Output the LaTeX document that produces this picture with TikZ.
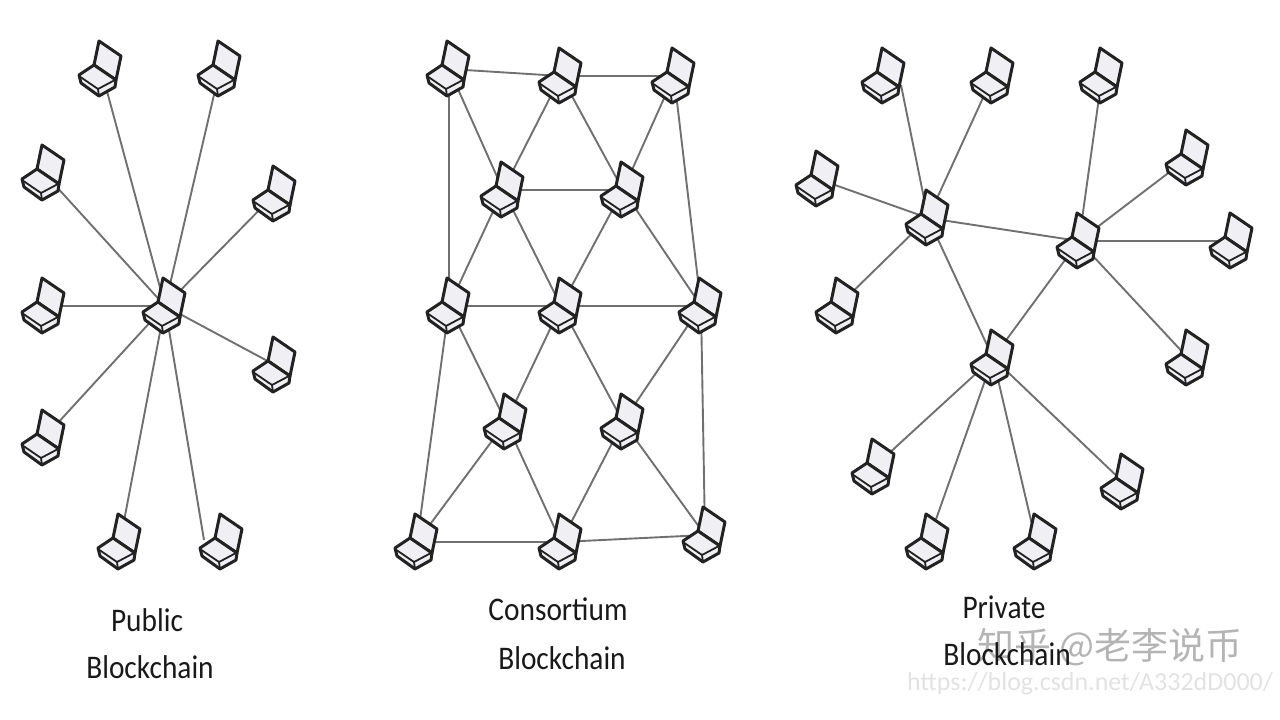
\documentclass[tikz,border=0pt]{standalone}
\usepackage{fontspec}
\setmainfont{Carlito}
\newfontfamily\cjkwm{Noto Sans CJK SC}
\definecolor{linkgray}{HTML}{707070}
\definecolor{edgeblack}{HTML}{222222}
\definecolor{screenfill}{HTML}{F0F0F4}
\definecolor{markgray}{HTML}{B4B4B4}
\definecolor{urlgray}{HTML}{E2E2E2}
\tikzset{
  spot/.style={shape=coordinate},
  link/.style={draw=linkgray,line width=1.9pt},
  laptop/.pic={
    \path[draw=edgeblack,fill=screenfill,line width=3pt,line join=round]
      (-2,-28)--(20,-13)--(15,11)--(-7,-4)--cycle;
    \path[draw=edgeblack,fill=screenfill,line width=3pt,line join=round]
      (-7,-4)--(15,11)--(14,18)--(-2,27)--(-20,14)--(-22,6)--cycle;
    \path[draw=edgeblack,line width=1.8pt] (-22,7)--(-3,20)--(14,11);
    \path[draw=edgeblack,line width=1.8pt] (-3,20)--(-2,27);
  },
  caption/.style={font=\fontsize{33}{37}\selectfont,text=black!90,inner sep=0pt,xscale=0.89},
  markcjk/.style={font=\cjkwm\fontsize{37}{41}\selectfont,text=markgray,inner sep=0pt},
  markurl/.style={font=\fontsize{26}{30}\selectfont,text=urlgray,inner sep=0pt}
}
\begin{document}
\begin{tikzpicture}[x=1pt,y=-1pt]
\useasboundingbox (0,0) rectangle (1280,720);
\foreach \n/\x/\y in {p0/165/306,p1/101/69,p2/220/69,p3/44/173,p4/275/194,p5/44/306,p6/275/365,p7/44/438,p8/120/542,p9/222/542,
 c1/449/69,c2/561/76,c3/674/76,c4/503/190,c5/623/190,c6/449/306,c7/561/306,c8/701/306,c9/506/422,c10/623/422,c11/417/542,c12/561/542,c13/705/535,
 a0/928/218,b0/1079/241,d0/993/358,a1/884/76,a2/993/76,a3/818/179,a4/838/306,b1/1102/76,b2/1188/158,b3/1232/241,b4/1188/358,d1/874/467,d2/928/542,d3/1036/542,d4/1123/482,
 p9end/204/540,a1end/901/85}
  \node[spot] (\n) at (\x,\y) {};
\foreach \u/\v in {p0/p1,p0/p2,p0/p3,p0/p4,p0/p5,p0/p6,p0/p7,p0/p8,p0/p9end,
 c1/c2,c2/c3,c1/c6,c1/c4,c2/c4,c2/c5,c3/c5,c3/c8,c4/c5,c4/c6,c4/c7,c5/c7,c5/c8,c6/c7,c7/c8,c6/c9,c6/c11,c7/c9,c7/c10,c8/c10,c8/c13,c9/c11,c9/c12,c10/c12,c10/c13,c11/c12,c12/c13,
 a0/a1end,a0/a2,a0/a3,a0/a4,b0/b1,b0/b2,b0/b3,b0/b4,d0/d1,d0/d2,d0/d3,d0/d4,a0/b0,a0/d0,b0/d0}
  \draw[link] (\u) -- (\v);
\foreach \n in {p0,p1,p2,p3,p4,p5,p6,p7,p8,p9,c1,c2,c3,c4,c5,c6,c7,c8,c9,c10,c11,c12,c13,a0,b0,d0,a1,a2,a3,a4,b1,b2,b3,b4,d1,d2,d3,d4}
  \pic at (\n) {laptop};
\node[caption] (t1) at (147,620) {Public};
\node[caption] (t2) at (150,667) {Blockchain};
\node[caption] (t3) at (558,609) {Consortium};
\node[caption] (t4) at (562,658) {Blockchain};
\node[markurl] (w2) at (1090,684) {https://blog.csdn.net/A332dD000/};
\node[markcjk] (w1) at (1110,647) {知乎 @老李说币};
\node[caption] (t5) at (1004,607) {Private};
\node[caption] (t6) at (1007,654) {Blockchain};
\end{tikzpicture}
\end{document}
